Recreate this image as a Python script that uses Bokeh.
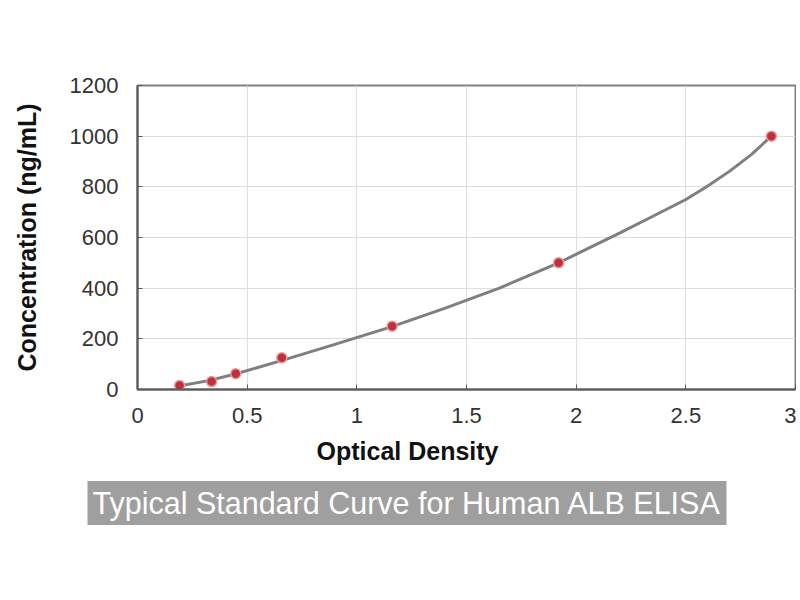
from bokeh.embed import file_html
from bokeh.models import ColumnDataSource, FixedTicker, Range1d, Title
from bokeh.plotting import figure
from bokeh.resources import INLINE

# standards: optical density vs concentration (ng/mL)
od = [0.192, 0.338, 0.448, 0.658, 1.161, 1.920, 2.890]
conc = [15.6, 31.25, 62.5, 125, 250, 500, 1000]

# fitted curve
curve_od = [0.19, 0.33, 0.45, 0.66, 0.90, 1.16, 1.40, 1.65, 1.92,
            2.05, 2.20, 2.35, 2.50, 2.60, 2.70, 2.80, 2.89]
curve_conc = [14, 36, 62, 115, 178, 248, 320, 400, 500,
              555, 618, 684, 750, 803, 862, 928, 1000]

x_ticks = [0, 0.5, 1, 1.5, 2, 2.5, 3]
y_ticks = [0, 200, 400, 600, 800, 1000, 1200]

x_title = "Optical Density"
y_title = "Concentration (ng/mL)"
caption = "Typical Standard Curve for Human ALB ELISA"

FONT = "Liberation Sans"

p = figure(
    width=796,
    height=560,
    x_range=Range1d(0, 3),
    y_range=Range1d(0, 1200),
    output_backend="svg",
    toolbar_location=None,
    min_border_left=137,
    min_border_right=1,
    min_border_top=85,
    min_border_bottom=171,
)

curve_src = ColumnDataSource(dict(x=curve_od, y=curve_conc))
pts_src = ColumnDataSource(dict(x=od, y=conc))

p.line("x", "y", source=curve_src, line_color="#7f7f7f", line_width=3)
p.scatter("x", "y", source=pts_src, size=10, fill_color="#c0303a",
          line_color="#e79aa0", line_width=1.5)

# axes / grid
p.xaxis.ticker = FixedTicker(ticks=x_ticks)
p.yaxis.ticker = FixedTicker(ticks=y_ticks)
for ax in (p.xaxis, p.yaxis):
    ax.major_label_text_font = FONT
    ax.major_label_text_font_size = "22px"
    ax.major_label_text_color = "#333333"
    ax.axis_line_color = "#595959"
    ax.axis_line_width = 2
    ax.major_tick_line_color = "#595959"
    ax.major_tick_in = 5
    ax.major_tick_out = 0
    ax.minor_tick_line_color = None
p.xaxis.major_label_standoff = 18
p.yaxis.major_label_standoff = 19

p.yaxis.axis_label = y_title
p.yaxis.axis_label_standoff = 26
p.yaxis.axis_label_text_font = FONT
p.yaxis.axis_label_text_font_size = "25px"
p.yaxis.axis_label_text_font_style = "bold"
p.yaxis.axis_label_text_color = "#111111"

p.xgrid.grid_line_color = "#dedede"
p.ygrid.grid_line_color = "#dedede"
p.outline_line_color = "#808080"
p.outline_line_width = 2

# x title sits left of centre in the original
p.add_layout(Title(text=x_title, align="left", offset=179, standoff=18,
                   text_font=FONT, text_font_size="25px",
                   text_font_style="bold", text_color="#111111"), "below")

# caption, grey strip under the chart
p.add_layout(Title(text=caption, align="left", offset=-50, standoff=11,
                   text_font=FONT, text_font_size="30.5px",
                   text_font_style="normal", text_color="white",
                   background_fill_color="#9f9f9f", padding=5), "below")

open("out.html", "w").write(file_html(p, INLINE))
